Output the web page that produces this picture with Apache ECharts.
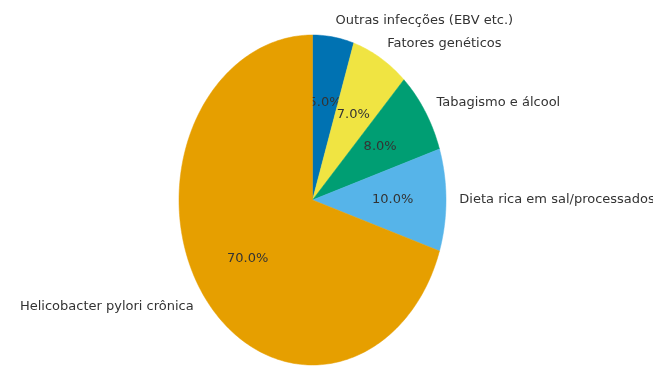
<!DOCTYPE html>
<html>
<head>
<meta charset="utf-8">
<script src="https://cdn.jsdelivr.net/npm/echarts@6/dist/echarts.min.js"></script>
<style>html,body{margin:0;padding:0;background:#fff;}#c{width:653px;height:367px;}</style>
</head>
<body>
<div id="c"></div>
<script>
const categories = ['Outras infecções (EBV etc.)', 'Fatores genéticos', 'Tabagismo e álcool', 'Dieta rica em sal/processados', 'Helicobacter pylori crônica'];
const values = [5, 7, 8, 10, 70];
const colors = ['#0072B2', '#F0E442', '#009E73', '#56B4E9', '#E69F00'];

const total = values.reduce((a, b) => a + b, 0);
const chart = echarts.init(document.getElementById('c'), null, {renderer: 'canvas'});

function renderItem(params, api) {
  const i = params.dataIndex;
  let before = 0;
  for (let k = 0; k < i; k++) before += values[k];
  const a0 = Math.PI / 2 - before / total * 2 * Math.PI;
  const a1 = Math.PI / 2 - (before + values[i]) / total * 2 * Math.PI;
  const pts = [api.coord([0, 0])];
  const n = Math.max(4, Math.ceil(values[i] / total * 360));
  for (let s = 0; s <= n; s++) {
    const a = a0 + (a1 - a0) * s / n;
    pts.push(api.coord([Math.cos(a), Math.sin(a)]));
  }
  const am = (a0 + a1) / 2;
  const lp = api.coord([1.1 * Math.cos(am), 1.1 * Math.sin(am)]);
  const pp = api.coord([0.6 * Math.cos(am), 0.6 * Math.sin(am)]);
  const right = Math.cos(am) > 0;
  return {
    type: 'group',
    children: [
      {type: 'polygon', shape: {points: pts}, style: {fill: colors[i], stroke: colors[i], lineWidth: 0.5}},
      {type: 'text', x: lp[0], y: lp[1], style: {text: categories[i], fill: '#333', font: '13px "DejaVu Sans"', align: right ? 'left' : 'right', verticalAlign: 'middle'}},
      {type: 'text', x: pp[0], y: pp[1], style: {text: (values[i] / total * 100).toFixed(1) + '%', fill: '#333', font: '13px "DejaVu Sans"', align: 'center', verticalAlign: 'middle'}}
    ]
  };
}

chart.setOption({
  animation: false,
  grid: {left: 179, width: 267, top: 35, height: 330},
  xAxis: {type: 'value', min: -1, max: 1, show: false},
  yAxis: {type: 'value', min: -1, max: 1, show: false},
  series: [{
    type: 'custom',
    clip: false,
    renderItem: renderItem,
    data: values.map((v, i) => [i, v])
  }]
});
</script>
</body>
</html>
